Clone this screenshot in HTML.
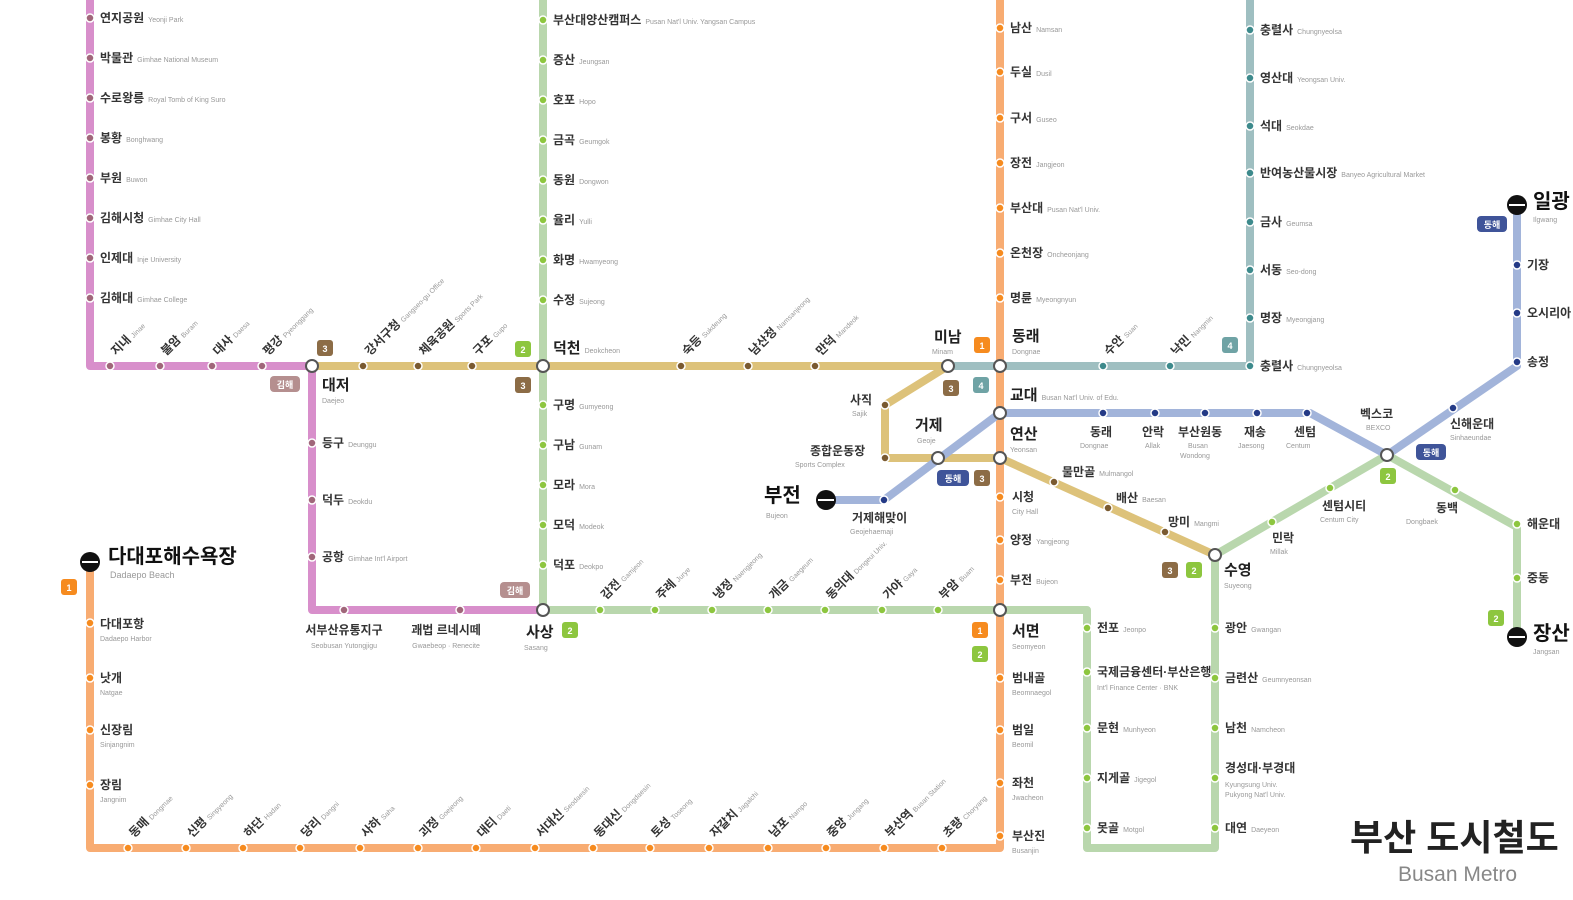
<!DOCTYPE html>
<html><head><meta charset="utf-8"><style>
html,body{margin:0;padding:0;background:#fff;width:1573px;height:900px;overflow:hidden}
svg{display:block}
text{font-family:"Liberation Sans","Noto Sans CJK KR",sans-serif}
.k{font-size:12px;font-weight:bold;fill:#333}
.e{font-size:7px;fill:#999}
.K{font-size:15px;font-weight:bold;fill:#222}
.B{font-size:20px;font-weight:bold;fill:#111}
.bt{font-size:9px;font-weight:bold;fill:#fff;text-anchor:middle}
</style></head><body>
<svg width="1573" height="900" viewBox="0 0 1573 900">
<g fill="none" stroke-width="8" stroke-linejoin="round">
<polyline stroke="#d88fcb" points="90,0 90,366 312,366 312,610 543,610"/>
<polyline stroke="#ddc27a" points="312,366 948,366 885,405 885,458 1000,458 1215,555"/>
<polyline stroke="#b9d7ad" points="543,0 543,610 1087,610 1087,848 1215,848 1215,555 1387,455 1517,527 1517,637"/>
<polyline stroke="#f8ac72" points="1000,0 1000,848 90,848 90,562"/>
<polyline stroke="#9fbfc1" points="948,366 1250,366 1250,0"/>
<polyline stroke="#a2b4da" points="826,500 884,500 1000,413 1310,413 1387,455 1517,366 1517,205"/>
</g>
<!-- purple dots -->
<g fill="#a0667a" stroke="#fff" stroke-width="1.5">
<circle cx="90" cy="18" r="4"/><circle cx="90" cy="58" r="4"/><circle cx="90" cy="98" r="4"/><circle cx="90" cy="138" r="4"/><circle cx="90" cy="178" r="4"/><circle cx="90" cy="218" r="4"/><circle cx="90" cy="258" r="4"/><circle cx="90" cy="298" r="4"/>
<circle cx="110" cy="366" r="4"/><circle cx="160" cy="366" r="4"/><circle cx="212" cy="366" r="4"/><circle cx="262" cy="366" r="4"/>
<circle cx="312" cy="443" r="4"/><circle cx="312" cy="500" r="4"/><circle cx="312" cy="557" r="4"/><circle cx="344" cy="610" r="4"/><circle cx="460" cy="610" r="4"/>
</g>
<g fill="#7a5a30" stroke="#fff" stroke-width="1.5">
<circle cx="363" cy="366" r="4"/><circle cx="418" cy="366" r="4"/><circle cx="472" cy="366" r="4"/><circle cx="681" cy="366" r="4"/><circle cx="748" cy="366" r="4"/><circle cx="815" cy="366" r="4"/>
<circle cx="885" cy="405" r="4"/><circle cx="885" cy="458" r="4"/><circle cx="1054" cy="482" r="4"/><circle cx="1108" cy="508" r="4"/><circle cx="1165" cy="532" r="4"/>
</g>
<g fill="#8dc63f" stroke="#fff" stroke-width="1.5">
<circle cx="543" cy="20" r="4"/><circle cx="543" cy="60" r="4"/><circle cx="543" cy="100" r="4"/><circle cx="543" cy="140" r="4"/><circle cx="543" cy="180" r="4"/><circle cx="543" cy="220" r="4"/><circle cx="543" cy="260" r="4"/><circle cx="543" cy="300" r="4"/>
<circle cx="543" cy="405" r="4"/><circle cx="543" cy="445" r="4"/><circle cx="543" cy="485" r="4"/><circle cx="543" cy="525" r="4"/><circle cx="543" cy="565" r="4"/>
<circle cx="600" cy="610" r="4"/><circle cx="655" cy="610" r="4"/><circle cx="712" cy="610" r="4"/><circle cx="768" cy="610" r="4"/><circle cx="825" cy="610" r="4"/><circle cx="882" cy="610" r="4"/><circle cx="938" cy="610" r="4"/>
<circle cx="1087" cy="628" r="4"/><circle cx="1087" cy="672" r="4"/><circle cx="1087" cy="728" r="4"/><circle cx="1087" cy="778" r="4"/><circle cx="1087" cy="828" r="4"/>
<circle cx="1215" cy="628" r="4"/><circle cx="1215" cy="678" r="4"/><circle cx="1215" cy="728" r="4"/><circle cx="1215" cy="778" r="4"/><circle cx="1215" cy="828" r="4"/>
<circle cx="1272" cy="522" r="4"/><circle cx="1330" cy="488" r="4"/><circle cx="1455" cy="490" r="4"/><circle cx="1517" cy="524" r="4"/><circle cx="1517" cy="578" r="4"/>
</g>
<g fill="#f68b1f" stroke="#fff" stroke-width="1.5">
<circle cx="1000" cy="28" r="4"/><circle cx="1000" cy="72" r="4"/><circle cx="1000" cy="118" r="4"/><circle cx="1000" cy="163" r="4"/><circle cx="1000" cy="208" r="4"/><circle cx="1000" cy="253" r="4"/><circle cx="1000" cy="298" r="4"/>
<circle cx="1000" cy="497" r="4"/><circle cx="1000" cy="540" r="4"/><circle cx="1000" cy="580" r="4"/><circle cx="1000" cy="678" r="4"/><circle cx="1000" cy="730" r="4"/><circle cx="1000" cy="783" r="4"/><circle cx="1000" cy="836" r="4"/>
<circle cx="128" cy="848" r="4"/><circle cx="186" cy="848" r="4"/><circle cx="243" cy="848" r="4"/><circle cx="300" cy="848" r="4"/><circle cx="360" cy="848" r="4"/><circle cx="418" cy="848" r="4"/><circle cx="476" cy="848" r="4"/><circle cx="535" cy="848" r="4"/><circle cx="593" cy="848" r="4"/><circle cx="650" cy="848" r="4"/><circle cx="709" cy="848" r="4"/><circle cx="768" cy="848" r="4"/><circle cx="826" cy="848" r="4"/><circle cx="884" cy="848" r="4"/><circle cx="942" cy="848" r="4"/>
<circle cx="90" cy="623" r="4"/><circle cx="90" cy="678" r="4"/><circle cx="90" cy="730" r="4"/><circle cx="90" cy="785" r="4"/>
</g>
<g fill="#3d8a8c" stroke="#fff" stroke-width="1.5">
<circle cx="1103" cy="366" r="4"/><circle cx="1170" cy="366" r="4"/>
<circle cx="1250" cy="30" r="4"/><circle cx="1250" cy="78" r="4"/><circle cx="1250" cy="126" r="4"/><circle cx="1250" cy="173" r="4"/><circle cx="1250" cy="222" r="4"/><circle cx="1250" cy="270" r="4"/><circle cx="1250" cy="318" r="4"/><circle cx="1250" cy="366" r="4"/>
</g>
<g fill="#243a86" stroke="#fff" stroke-width="1.5">
<circle cx="884" cy="500" r="4"/><circle cx="1103" cy="413" r="4"/><circle cx="1155" cy="413" r="4"/><circle cx="1205" cy="413" r="4"/><circle cx="1257" cy="413" r="4"/><circle cx="1307" cy="413" r="4"/><circle cx="1453" cy="408" r="4"/>
<circle cx="1517" cy="265" r="4"/><circle cx="1517" cy="313" r="4"/><circle cx="1517" cy="362" r="4"/>
</g>
<!-- interchanges -->
<g fill="#fff" stroke="#555" stroke-width="2">
<circle cx="312" cy="366" r="6"/><circle cx="543" cy="366" r="6"/><circle cx="543" cy="610" r="6"/><circle cx="948" cy="366" r="6"/><circle cx="1000" cy="366" r="6"/><circle cx="1000" cy="413" r="6"/><circle cx="1000" cy="458" r="6"/><circle cx="938" cy="458" r="6"/><circle cx="1000" cy="610" r="6"/><circle cx="1215" cy="555" r="6"/><circle cx="1387" cy="455" r="6"/>
</g>
<!-- termini -->
<g fill="#111"><circle cx="90" cy="562" r="10"/><circle cx="826" cy="500" r="10"/><circle cx="1517" cy="205" r="10"/><circle cx="1517" cy="637" r="10"/></g>
<g stroke="#fff" stroke-width="2"><line x1="82" y1="562" x2="98" y2="562"/><line x1="818" y1="500" x2="834" y2="500"/><line x1="1509" y1="205" x2="1525" y2="205"/><line x1="1509" y1="637" x2="1525" y2="637"/></g>
<!-- badges -->
<g>
<rect x="317" y="340" width="16" height="16" rx="3" fill="#8c6c46"/><text class="bt" x="325" y="352">3</text>
<rect x="515" y="341" width="16" height="16" rx="3" fill="#8dc63f"/><text class="bt" x="523" y="353">2</text>
<rect x="515" y="377" width="16" height="16" rx="3" fill="#8c6c46"/><text class="bt" x="523" y="389">3</text>
<rect x="270" y="376" width="30" height="16" rx="4" fill="#b58f8f"/><text class="bt" x="285" y="388">김해</text>
<rect x="500" y="582" width="30" height="16" rx="4" fill="#b58f8f"/><text class="bt" x="515" y="594">김해</text>
<rect x="562" y="622" width="16" height="16" rx="3" fill="#8dc63f"/><text class="bt" x="570" y="634">2</text>
<rect x="974" y="337" width="16" height="16" rx="3" fill="#f68b1f"/><text class="bt" x="982" y="349">1</text>
<rect x="943" y="380" width="16" height="16" rx="3" fill="#8c6c46"/><text class="bt" x="951" y="392">3</text>
<rect x="973" y="377" width="16" height="16" rx="3" fill="#6fa3a5"/><text class="bt" x="981" y="389">4</text>
<rect x="1222" y="337" width="16" height="16" rx="3" fill="#6fa3a5"/><text class="bt" x="1230" y="349">4</text>
<rect x="937" y="470" width="32" height="16" rx="4" fill="#3f5499"/><text class="bt" x="953" y="482">동해</text>
<rect x="974" y="470" width="16" height="16" rx="3" fill="#8c6c46"/><text class="bt" x="982" y="482">3</text>
<rect x="1162" y="562" width="16" height="16" rx="3" fill="#8c6c46"/><text class="bt" x="1170" y="574">3</text>
<rect x="1186" y="562" width="16" height="16" rx="3" fill="#8dc63f"/><text class="bt" x="1194" y="574">2</text>
<rect x="972" y="622" width="16" height="16" rx="3" fill="#f68b1f"/><text class="bt" x="980" y="634">1</text>
<rect x="972" y="646" width="16" height="16" rx="3" fill="#8dc63f"/><text class="bt" x="980" y="658">2</text>
<rect x="61" y="579" width="16" height="16" rx="3" fill="#f68b1f"/><text class="bt" x="69" y="591">1</text>
<rect x="1380" y="468" width="16" height="16" rx="3" fill="#8dc63f"/><text class="bt" x="1388" y="480">2</text>
<rect x="1416" y="444" width="30" height="16" rx="4" fill="#3f5499"/><text class="bt" x="1431" y="456">동해</text>
<rect x="1477" y="216" width="30" height="16" rx="4" fill="#3f5499"/><text class="bt" x="1492" y="228">동해</text>
<rect x="1488" y="610" width="16" height="16" rx="3" fill="#8dc63f"/><text class="bt" x="1496" y="622">2</text>
</g>
<!-- purple labels -->
<g>
<text x="100" y="22"><tspan class="k">연지공원</tspan><tspan class="e" dx="4">Yeonji Park</tspan></text>
<text x="100" y="62"><tspan class="k">박물관</tspan><tspan class="e" dx="4">Gimhae National Museum</tspan></text>
<text x="100" y="102"><tspan class="k">수로왕릉</tspan><tspan class="e" dx="4">Royal Tomb of King Suro</tspan></text>
<text x="100" y="142"><tspan class="k">봉황</tspan><tspan class="e" dx="4">Bonghwang</tspan></text>
<text x="100" y="182"><tspan class="k">부원</tspan><tspan class="e" dx="4">Buwon</tspan></text>
<text x="100" y="222"><tspan class="k">김해시청</tspan><tspan class="e" dx="4">Gimhae City Hall</tspan></text>
<text x="100" y="262"><tspan class="k">인제대</tspan><tspan class="e" dx="4">Inje University</tspan></text>
<text x="100" y="302"><tspan class="k">김해대</tspan><tspan class="e" dx="4">Gimhae College</tspan></text>
<text transform="translate(116,356) rotate(-45)"><tspan class="k">지내</tspan><tspan class="e" dx="3">Jinae</tspan></text>
<text transform="translate(166,356) rotate(-45)"><tspan class="k">불암</tspan><tspan class="e" dx="3">Buram</tspan></text>
<text transform="translate(218,356) rotate(-45)"><tspan class="k">대사</tspan><tspan class="e" dx="3">Daesa</tspan></text>
<text transform="translate(268,356) rotate(-45)"><tspan class="k">평강</tspan><tspan class="e" dx="3">Pyeonggang</tspan></text>
<text transform="translate(370,356) rotate(-45)"><tspan class="k">강서구청</tspan><tspan class="e" dx="3">Gangseo-gu Office</tspan></text>
<text transform="translate(424,356) rotate(-45)"><tspan class="k">체육공원</tspan><tspan class="e" dx="3">Sports Park</tspan></text>
<text transform="translate(478,356) rotate(-45)"><tspan class="k">구포</tspan><tspan class="e" dx="3">Gupo</tspan></text>
<text x="322" y="390" class="K">대저</text><text x="322" y="403" class="e">Daejeo</text>
<text x="322" y="447"><tspan class="k">등구</tspan><tspan class="e" dx="4">Deunggu</tspan></text>
<text x="322" y="504"><tspan class="k">덕두</tspan><tspan class="e" dx="4">Deokdu</tspan></text>
<text x="322" y="561"><tspan class="k">공항</tspan><tspan class="e" dx="4">Gimhae Int'l Airport</tspan></text>
<text x="344" y="634" class="k" text-anchor="middle">서부산유통지구</text><text x="344" y="648" class="e" text-anchor="middle">Seobusan Yutongjigu</text>
<text x="446" y="634" class="k" text-anchor="middle">괘법 르네시떼</text><text x="446" y="648" class="e" text-anchor="middle">Gwaebeop · Renecite</text>
<text x="526" y="637" class="K">사상</text><text x="524" y="650" class="e">Sasang</text>
</g>
<!-- green labels -->
<g>
<text x="553" y="24"><tspan class="k">부산대양산캠퍼스</tspan><tspan class="e" dx="4">Pusan Nat'l Univ. Yangsan Campus</tspan></text>
<text x="553" y="64"><tspan class="k">증산</tspan><tspan class="e" dx="4">Jeungsan</tspan></text>
<text x="553" y="104"><tspan class="k">호포</tspan><tspan class="e" dx="4">Hopo</tspan></text>
<text x="553" y="144"><tspan class="k">금곡</tspan><tspan class="e" dx="4">Geumgok</tspan></text>
<text x="553" y="184"><tspan class="k">동원</tspan><tspan class="e" dx="4">Dongwon</tspan></text>
<text x="553" y="224"><tspan class="k">율리</tspan><tspan class="e" dx="4">Yulli</tspan></text>
<text x="553" y="264"><tspan class="k">화명</tspan><tspan class="e" dx="4">Hwamyeong</tspan></text>
<text x="553" y="304"><tspan class="k">수정</tspan><tspan class="e" dx="4">Sujeong</tspan></text>
<text x="553" y="353"><tspan class="K">덕천</tspan><tspan class="e" dx="4">Deokcheon</tspan></text>
<text x="553" y="409"><tspan class="k">구명</tspan><tspan class="e" dx="4">Gumyeong</tspan></text>
<text x="553" y="449"><tspan class="k">구남</tspan><tspan class="e" dx="4">Gunam</tspan></text>
<text x="553" y="489"><tspan class="k">모라</tspan><tspan class="e" dx="4">Mora</tspan></text>
<text x="553" y="529"><tspan class="k">모덕</tspan><tspan class="e" dx="4">Modeok</tspan></text>
<text x="553" y="569"><tspan class="k">덕포</tspan><tspan class="e" dx="4">Deokpo</tspan></text>
<text transform="translate(606,600) rotate(-45)"><tspan class="k">감전</tspan><tspan class="e" dx="3">Gamjeon</tspan></text>
<text transform="translate(661,600) rotate(-45)"><tspan class="k">주례</tspan><tspan class="e" dx="3">Jurye</tspan></text>
<text transform="translate(718,600) rotate(-45)"><tspan class="k">냉정</tspan><tspan class="e" dx="3">Naengjeong</tspan></text>
<text transform="translate(774,600) rotate(-45)"><tspan class="k">개금</tspan><tspan class="e" dx="3">Gaegeum</tspan></text>
<text transform="translate(831,600) rotate(-45)"><tspan class="k">동의대</tspan><tspan class="e" dx="3">Dongeui Univ.</tspan></text>
<text transform="translate(888,600) rotate(-45)"><tspan class="k">가야</tspan><tspan class="e" dx="3">Gaya</tspan></text>
<text transform="translate(944,600) rotate(-45)"><tspan class="k">부암</tspan><tspan class="e" dx="3">Buam</tspan></text>
<text x="1097" y="632"><tspan class="k">전포</tspan><tspan class="e" dx="4">Jeonpo</tspan></text>
<text x="1097" y="676" class="k">국제금융센터·부산은행</text><text x="1097" y="690" class="e">Int'l Finance Center · BNK</text>
<text x="1097" y="732"><tspan class="k">문현</tspan><tspan class="e" dx="4">Munhyeon</tspan></text>
<text x="1097" y="782"><tspan class="k">지게골</tspan><tspan class="e" dx="4">Jigegol</tspan></text>
<text x="1097" y="832"><tspan class="k">못골</tspan><tspan class="e" dx="4">Motgol</tspan></text>
<text x="1225" y="632"><tspan class="k">광안</tspan><tspan class="e" dx="4">Gwangan</tspan></text>
<text x="1225" y="682"><tspan class="k">금련산</tspan><tspan class="e" dx="4">Geumnyeonsan</tspan></text>
<text x="1225" y="732"><tspan class="k">남천</tspan><tspan class="e" dx="4">Namcheon</tspan></text>
<text x="1225" y="772" class="k">경성대·부경대</text><text x="1225" y="787" class="e">Kyungsung Univ.</text><text x="1225" y="797" class="e">Pukyong Nat'l Univ.</text>
<text x="1225" y="832"><tspan class="k">대연</tspan><tspan class="e" dx="4">Daeyeon</tspan></text>
<text x="1224" y="575" class="K">수영</text><text x="1224" y="588" class="e">Suyeong</text>
<text x="1272" y="542" class="k">민락</text><text x="1270" y="554" class="e">Millak</text>
<text x="1322" y="510" class="k">센텀시티</text><text x="1320" y="522" class="e">Centum City</text>
<text x="1436" y="512" class="k">동백</text><text x="1406" y="524" class="e">Dongbaek</text>
<text x="1527" y="528" class="k">해운대</text>
<text x="1527" y="582" class="k">중동</text>
<text x="1533" y="640" class="B">장산</text><text x="1533" y="654" class="e">Jangsan</text>
</g>
<!-- orange labels -->
<g>
<text x="1010" y="32"><tspan class="k">남산</tspan><tspan class="e" dx="4">Namsan</tspan></text>
<text x="1010" y="76"><tspan class="k">두실</tspan><tspan class="e" dx="4">Dusil</tspan></text>
<text x="1010" y="122"><tspan class="k">구서</tspan><tspan class="e" dx="4">Guseo</tspan></text>
<text x="1010" y="167"><tspan class="k">장전</tspan><tspan class="e" dx="4">Jangjeon</tspan></text>
<text x="1010" y="212"><tspan class="k">부산대</tspan><tspan class="e" dx="4">Pusan Nat'l Univ.</tspan></text>
<text x="1010" y="257"><tspan class="k">온천장</tspan><tspan class="e" dx="4">Oncheonjang</tspan></text>
<text x="1010" y="302"><tspan class="k">명륜</tspan><tspan class="e" dx="4">Myeongnyun</tspan></text>
<text x="1012" y="341" class="K">동래</text><text x="1012" y="354" class="e">Dongnae</text>
<text x="1010" y="400"><tspan class="K">교대</tspan><tspan class="e" dx="4">Busan Nat'l Univ. of Edu.</tspan></text>
<text x="1010" y="439" class="K">연산</text><text x="1010" y="452" class="e">Yeonsan</text>
<text x="1012" y="501" class="k">시청</text><text x="1012" y="514" class="e">City Hall</text>
<text x="1010" y="544"><tspan class="k">양정</tspan><tspan class="e" dx="4">Yangjeong</tspan></text>
<text x="1010" y="584"><tspan class="k">부전</tspan><tspan class="e" dx="4">Bujeon</tspan></text>
<text x="1012" y="636" class="K">서면</text><text x="1012" y="649" class="e">Seomyeon</text>
<text x="1012" y="682" class="k">범내골</text><text x="1012" y="695" class="e">Beomnaegol</text>
<text x="1012" y="734" class="k">범일</text><text x="1012" y="747" class="e">Beomil</text>
<text x="1012" y="787" class="k">좌천</text><text x="1012" y="800" class="e">Jwacheon</text>
<text x="1012" y="840" class="k">부산진</text><text x="1012" y="853" class="e">Busanjin</text>
<text transform="translate(134,838) rotate(-45)"><tspan class="k">동매</tspan><tspan class="e" dx="3">Dongmae</tspan></text>
<text transform="translate(192,838) rotate(-45)"><tspan class="k">신평</tspan><tspan class="e" dx="3">Sinpyeong</tspan></text>
<text transform="translate(249,838) rotate(-45)"><tspan class="k">하단</tspan><tspan class="e" dx="3">Hadan</tspan></text>
<text transform="translate(306,838) rotate(-45)"><tspan class="k">당리</tspan><tspan class="e" dx="3">Dangni</tspan></text>
<text transform="translate(366,838) rotate(-45)"><tspan class="k">사하</tspan><tspan class="e" dx="3">Saha</tspan></text>
<text transform="translate(424,838) rotate(-45)"><tspan class="k">괴정</tspan><tspan class="e" dx="3">Goejeong</tspan></text>
<text transform="translate(482,838) rotate(-45)"><tspan class="k">대티</tspan><tspan class="e" dx="3">Daeti</tspan></text>
<text transform="translate(541,838) rotate(-45)"><tspan class="k">서대신</tspan><tspan class="e" dx="3">Seodaesin</tspan></text>
<text transform="translate(599,838) rotate(-45)"><tspan class="k">동대신</tspan><tspan class="e" dx="3">Dongdaesin</tspan></text>
<text transform="translate(656,838) rotate(-45)"><tspan class="k">토성</tspan><tspan class="e" dx="3">Toseong</tspan></text>
<text transform="translate(715,838) rotate(-45)"><tspan class="k">자갈치</tspan><tspan class="e" dx="3">Jagalchi</tspan></text>
<text transform="translate(774,838) rotate(-45)"><tspan class="k">남포</tspan><tspan class="e" dx="3">Nampo</tspan></text>
<text transform="translate(832,838) rotate(-45)"><tspan class="k">중앙</tspan><tspan class="e" dx="3">Jungang</tspan></text>
<text transform="translate(890,838) rotate(-45)"><tspan class="k">부산역</tspan><tspan class="e" dx="3">Busan Station</tspan></text>
<text transform="translate(948,838) rotate(-45)"><tspan class="k">초량</tspan><tspan class="e" dx="3">Choryang</tspan></text>
<text x="100" y="628" class="k">다대포항</text><text x="100" y="641" class="e">Dadaepo Harbor</text>
<text x="100" y="682" class="k">낫개</text><text x="100" y="695" class="e">Natgae</text>
<text x="100" y="734" class="k">신장림</text><text x="100" y="747" class="e">Sinjangnim</text>
<text x="100" y="789" class="k">장림</text><text x="100" y="802" class="e">Jangnim</text>
<text x="108" y="563" class="B">다대포해수욕장</text><text x="110" y="578" class="e" style="font-size:9px">Dadaepo Beach</text>
</g>
<!-- gold / teal / blue labels -->
<g>
<text transform="translate(687,356) rotate(-45)"><tspan class="k">숙등</tspan><tspan class="e" dx="3">Sukdeung</tspan></text>
<text transform="translate(754,356) rotate(-45)"><tspan class="k">남산정</tspan><tspan class="e" dx="3">Namsanjeong</tspan></text>
<text transform="translate(821,356) rotate(-45)"><tspan class="k">만덕</tspan><tspan class="e" dx="3">Mandeok</tspan></text>
<text x="934" y="342" class="K">미남</text><text x="932" y="354" class="e">Minam</text>
<text x="850" y="404" class="k">사직</text><text x="852" y="416" class="e">Sajik</text>
<text x="810" y="455" class="k">종합운동장</text><text x="795" y="467" class="e">Sports Complex</text>
<text x="915" y="430" class="K">거제</text><text x="917" y="443" class="e">Geoje</text>
<text x="764" y="502" class="B">부전</text><text x="766" y="518" class="e">Bujeon</text>
<text x="852" y="522" class="k">거제해맞이</text><text x="850" y="534" class="e">Geojehaemaji</text>
<text x="1062" y="476"><tspan class="k">물만골</tspan><tspan class="e" dx="4">Mulmangol</tspan></text>
<text x="1116" y="502"><tspan class="k">배산</tspan><tspan class="e" dx="4">Baesan</tspan></text>
<text x="1168" y="526"><tspan class="k">망미</tspan><tspan class="e" dx="4">Mangmi</tspan></text>
<text transform="translate(1109,356) rotate(-45)"><tspan class="k">수안</tspan><tspan class="e" dx="3">Suan</tspan></text>
<text transform="translate(1176,356) rotate(-45)"><tspan class="k">낙민</tspan><tspan class="e" dx="3">Nangmin</tspan></text>
<text x="1260" y="34"><tspan class="k">충렬사</tspan><tspan class="e" dx="4">Chungnyeolsa</tspan></text>
<text x="1260" y="34" opacity="0"> </text>
<text x="1260" y="82"><tspan class="k">영산대</tspan><tspan class="e" dx="4">Yeongsan Univ.</tspan></text>
<text x="1260" y="130"><tspan class="k">석대</tspan><tspan class="e" dx="4">Seokdae</tspan></text>
<text x="1260" y="177"><tspan class="k">반여농산물시장</tspan><tspan class="e" dx="4">Banyeo Agricultural Market</tspan></text>
<text x="1260" y="226"><tspan class="k">금사</tspan><tspan class="e" dx="4">Geumsa</tspan></text>
<text x="1260" y="274"><tspan class="k">서동</tspan><tspan class="e" dx="4">Seo-dong</tspan></text>
<text x="1260" y="322"><tspan class="k">명장</tspan><tspan class="e" dx="4">Myeongjang</tspan></text>
<text x="1260" y="370"><tspan class="k">충렬사</tspan><tspan class="e" dx="4">Chungnyeolsa</tspan></text>
<text x="1090" y="436" class="k">동래</text><text x="1080" y="448" class="e">Dongnae</text>
<text x="1142" y="436" class="k">안락</text><text x="1145" y="448" class="e">Allak</text>
<text x="1178" y="436" class="k">부산원동</text><text x="1188" y="448" class="e">Busan</text><text x="1180" y="458" class="e">Wondong</text>
<text x="1244" y="436" class="k">재송</text><text x="1238" y="448" class="e">Jaesong</text>
<text x="1294" y="436" class="k">센텀</text><text x="1286" y="448" class="e">Centum</text>
<text x="1360" y="418" class="k">벡스코</text><text x="1366" y="430" class="e">BEXCO</text>
<text x="1450" y="428" class="k">신해운대</text><text x="1450" y="440" class="e">Sinhaeundae</text>
<text x="1527" y="269" class="k">기장</text>
<text x="1527" y="317" class="k">오시리아</text>
<text x="1527" y="366" class="k">송정</text>
<text x="1533" y="208" class="B">일광</text><text x="1533" y="222" class="e">Ilgwang</text>
</g>
<text x="1350" y="850" style="font-size:36px;font-weight:bold;fill:#222">부산 도시철도</text>
<text x="1398" y="881" style="font-size:21px;fill:#888">Busan Metro</text>
</svg>
</body></html>
